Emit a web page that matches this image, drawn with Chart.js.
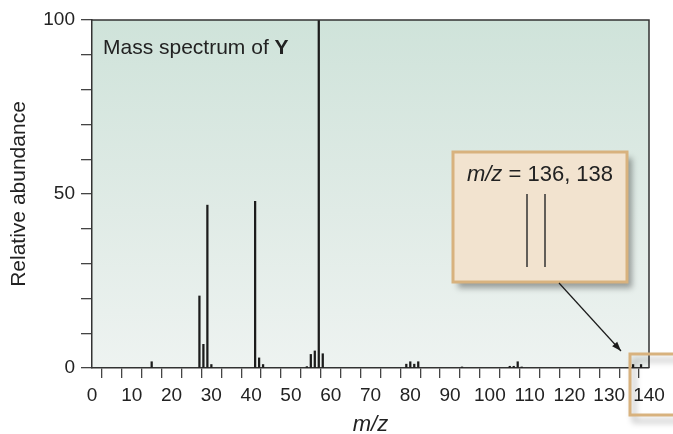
<!DOCTYPE html>
<html>
<head>
<meta charset="utf-8">
<script src="https://cdn.jsdelivr.net/npm/chart.js@4"></script>
<style>
  html, body { margin: 0; padding: 0; background: #fff; }
  #wrap { width: 673px; height: 434px; position: relative; }
</style>
</head>
<body>
<div id="wrap"><canvas id="chart" width="673" height="434"></canvas></div>
<script>
// peaks
const mzValues = [15, 27, 28, 29, 30, 41, 42, 43, 54, 55, 56, 57, 58, 79, 80, 81, 82, 93, 105, 106, 107, 108, 136, 138];
const abundance = [1.8, 20.7, 6.8, 46.8, 1, 47.9, 2.9, 1, 0.4, 3.9, 4.9, 100, 4.1, 1.1, 1.8, 1.1, 1.8, 0.3, 0.5, 0.5, 1.8, 0.3, 1, 1];
const xTickLabels = [0, 10, 20, 30, 40, 50, 60, 70, 80, 90, 100, 110, 120, 130, 140];
const yTickLabels = [0, 50, 100];
const chartTitle = 'Mass spectrum of ';
const chartTitleBold = 'Y';
const insetLabel = ' = 136, 138';

Chart.defaults.font.family = '"Liberation Sans", Arial, sans-serif';
Chart.defaults.color = '#222';

const ink = '#1c1c1c';
const fam = '"Liberation Sans", Arial, sans-serif';

const backdrop = {
  id: 'backdrop',
  beforeDraw(chart) {
    const { ctx, chartArea: a } = chart;
    const g = ctx.createLinearGradient(0, a.top, 0, a.bottom);
    g.addColorStop(0, '#cfe3da');
    g.addColorStop(0.55, '#e0ebe6');
    g.addColorStop(1, '#eef3f1');
    ctx.save();
    ctx.fillStyle = g;
    ctx.fillRect(a.left, a.top, a.right - a.left, a.bottom - a.top);
    ctx.restore();
  },
  afterDraw(chart) {
    const { ctx, chartArea: a } = chart;
    ctx.save();
    // frame on top and right
    ctx.strokeStyle = '#333';
    ctx.lineWidth = 1.5;
    ctx.beginPath();
    ctx.moveTo(a.left, a.top);
    ctx.lineTo(a.right, a.top);
    ctx.lineTo(a.right, a.bottom);
    ctx.stroke();

    // title inside plot
    ctx.fillStyle = '#222';
    ctx.textBaseline = 'middle';
    ctx.font = '21px ' + fam;
    const tx = a.left + 11;
    const ty = 48;
    ctx.fillText(chartTitle, tx, ty);
    const w = ctx.measureText(chartTitle).width;
    ctx.font = 'bold 21px ' + fam;
    ctx.fillText(chartTitleBold, tx + w, ty);

    // inset box with magnified peaks
    const bx = 453, by = 152, bw = 174, bh = 130;
    ctx.shadowColor = 'rgba(0,0,0,0.35)';
    ctx.shadowBlur = 6;
    ctx.shadowOffsetX = 5;
    ctx.shadowOffsetY = 6;
    ctx.fillStyle = '#f2e3cf';
    ctx.fillRect(bx, by, bw, bh);
    ctx.shadowColor = 'transparent';
    ctx.strokeStyle = '#d8b27e';
    ctx.lineWidth = 3;
    ctx.strokeRect(bx, by, bw, bh);

    ctx.fillStyle = '#222';
    ctx.font = 'italic 22px ' + fam;
    const lbl1 = 'm/z';
    const w1 = ctx.measureText(lbl1).width;
    ctx.font = '22px ' + fam;
    const w2 = ctx.measureText(insetLabel).width;
    const lx = bx + bw / 2 - (w1 + w2) / 2;
    ctx.font = 'italic 22px ' + fam;
    ctx.fillText(lbl1, lx, 175);
    ctx.font = '22px ' + fam;
    ctx.fillText(insetLabel, lx + w1, 175);

    ctx.strokeStyle = '#333';
    ctx.lineWidth = 1.5;
    ctx.beginPath();
    ctx.moveTo(527, 194); ctx.lineTo(527, 267);
    ctx.moveTo(545, 194); ctx.lineTo(545, 267);
    ctx.stroke();

    // arrow to the small peaks
    const x0 = 559, y0 = 283, x1 = 621, y1 = 351;
    ctx.strokeStyle = ink;
    ctx.lineWidth = 1.2;
    ctx.beginPath();
    ctx.moveTo(x0, y0); ctx.lineTo(x1, y1);
    ctx.stroke();
    const ang = Math.atan2(y1 - y0, x1 - x0);
    ctx.fillStyle = ink;
    ctx.beginPath();
    ctx.moveTo(x1, y1);
    ctx.lineTo(x1 - 10 * Math.cos(ang - 0.35), y1 - 10 * Math.sin(ang - 0.35));
    ctx.lineTo(x1 - 10 * Math.cos(ang + 0.35), y1 - 10 * Math.sin(ang + 0.35));
    ctx.closePath();
    ctx.fill();

    // small highlight box around m/z 136-138
    ctx.shadowColor = 'rgba(0,0,0,0.3)';
    ctx.shadowBlur = 6;
    ctx.shadowOffsetX = 4;
    ctx.shadowOffsetY = 6;
    ctx.strokeStyle = '#d8b27e';
    ctx.lineWidth = 3;
    ctx.strokeRect(630, 354, 60, 61);
    ctx.restore();
  }
};

new Chart(document.getElementById('chart'), {
  type: 'bar',
  data: {
    datasets: [{
      data: mzValues.map((m, i) => ({ x: m, y: abundance[i] })),
      backgroundColor: ink,
      borderWidth: 0,
      barThickness: 1.6
    }]
  },
  options: {
    responsive: false,
    animation: false,
    layout: { padding: { top: 20, right: 24, bottom: 0, left: 0 } },
    plugins: { legend: { display: false }, tooltip: { enabled: false } },
    scales: {
      x: {
        type: 'linear',
        min: 0,
        max: 140,
        offset: false,
        afterFit(scale) { scale.height = 66; },
        border: { color: '#333', width: 1.5 },
        grid: { drawOnChartArea: false, drawTicks: true, tickLength: 10, color: '#444', lineWidth: 1.3 },
        ticks: {
          stepSize: 5,
          autoSkip: false,
          maxRotation: 0,
          padding: 6,
          font: { size: 19 },
          callback: v => xTickLabels.includes(v) ? String(v) : ''
        },
        title: {
          display: true,
          text: 'm/z',
          font: { size: 22, style: 'italic', lineHeight: 0.8 },
          padding: 0
        }
      },
      y: {
        min: 0,
        max: 100,
        afterFit(scale) { scale.width = 92; },
        border: { color: '#333', width: 1.5 },
        grid: { drawOnChartArea: false, drawTicks: true, tickLength: 11, color: '#444', lineWidth: 1.3 },
        ticks: {
          stepSize: 10,
          padding: 6,
          font: { size: 19 },
          callback: v => yTickLabels.includes(v) ? String(v) : ''
        },
        title: {
          display: true,
          text: 'Relative abundance',
          font: { size: 21 },
          padding: 7
        }
      }
    }
  },
  plugins: [backdrop]
});
</script>
</body>
</html>
